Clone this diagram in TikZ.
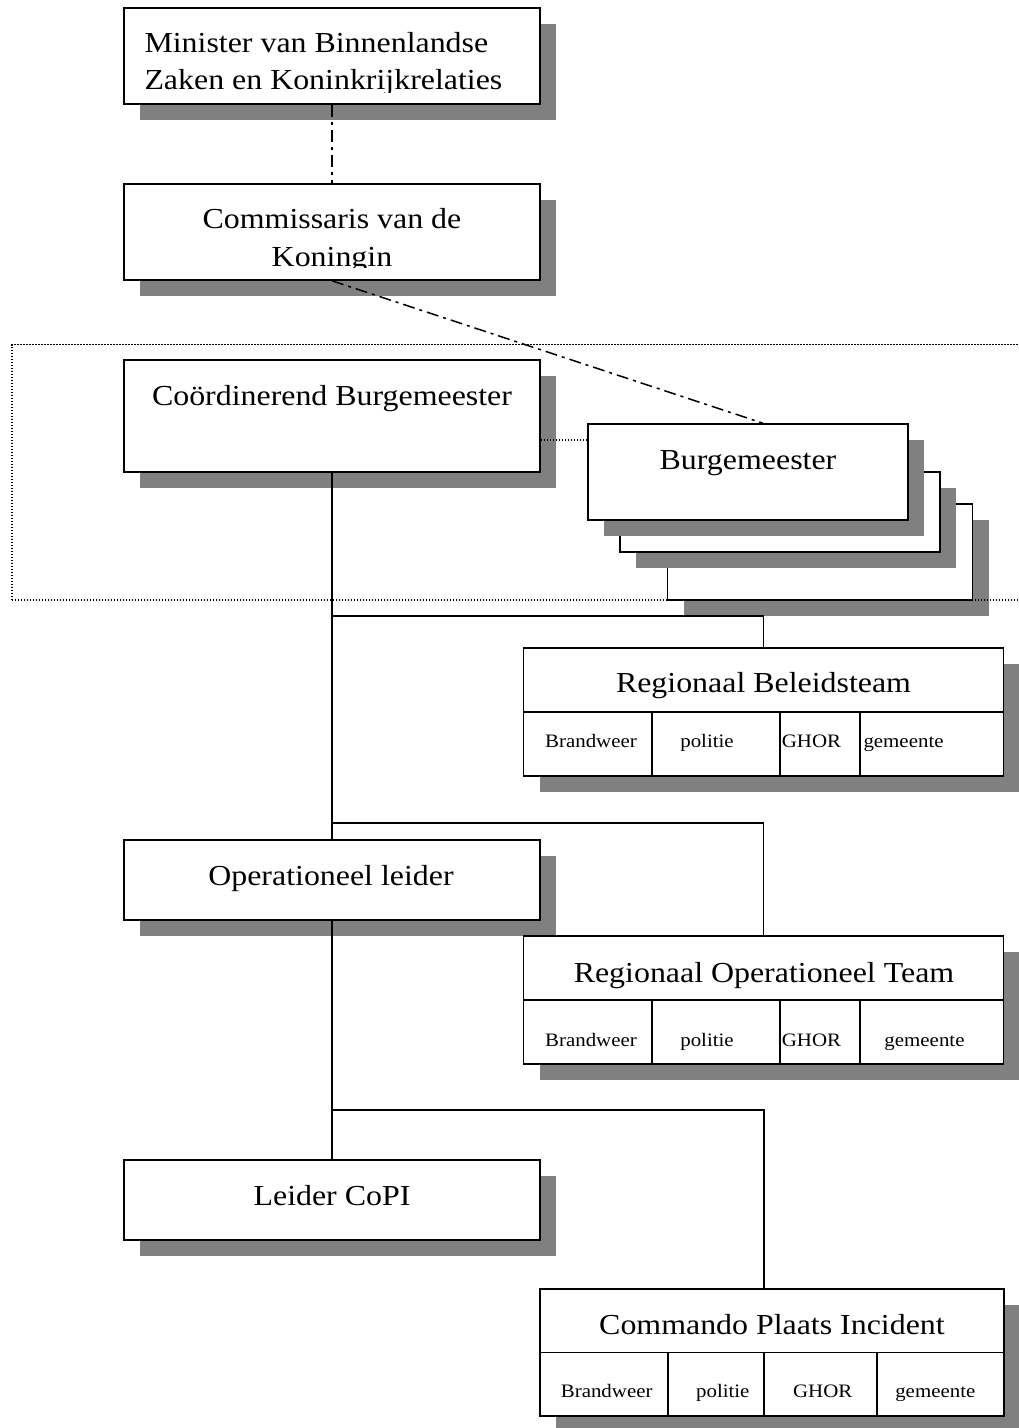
\documentclass[tikz,border=0pt]{standalone}
\usepackage{fontspec}
\setmainfont{Liberation Serif}[FakeStretch=1.1]
\usetikzlibrary{shadows}
\definecolor{shade}{HTML}{808080}
\tikzset{
  box/.style={draw, line width=1.6pt, fill=white, inner sep=0pt,
    drop shadow={shadow xshift=16pt, shadow yshift=-16pt, fill=shade, opacity=1}},
  orgbox/.style={box, minimum width=416pt},
  lbl/.style={inner sep=0pt, anchor=base, font=\fontsize{29}{37}\selectfont},
  small/.style={inner sep=0pt, anchor=base, font=\fontsize{19}{23}\selectfont},
  conn/.style={line width=1.6pt},
  boxline/.style={line width=1.6pt},
  dashdot/.style={line width=1.5pt, dash pattern=on 12pt off 5pt on 3pt off 5pt},
  dotline/.style={line width=1.3pt, dash pattern=on 1.3pt off 1.7pt},
}
\begin{document}
\begin{tikzpicture}[x=1pt,y=-1pt]
\useasboundingbox (0,0) rectangle (1019,1428);

% boxes
\node[orgbox, minimum height=96pt] (min) at (332,56) {};
\node[orgbox, minimum height=96pt] (com) at (332,232) {};
\node[orgbox, minimum height=112pt] (crd) at (332,416) {};
\node[box, minimum width=305pt, minimum height=96pt] (burg3) at (820,552) {};
\node[box, minimum width=320pt, minimum height=80pt] (burg2) at (780,512) {};
\node[box, minimum width=320pt, minimum height=96pt] (burg1) at (748,472) {};
\node[orgbox, minimum height=80pt] (op) at (332,880) {};
\node[orgbox, minimum height=80pt] (cop) at (332,1200) {};
\node[box, minimum width=480pt, minimum height=128pt] (rb) at (763.5,712) {};
\node[box, minimum width=480pt, minimum height=128pt] (rot) at (763.5,1000) {};
\node[box, minimum width=464pt, minimum height=127pt] (cpi) at (772,1352.5) {};

% table rows and cells
\draw[boxline] (rb.west) -- (rb.east);
\draw[boxline] (652,0 |- rb.center) -- (652,0 |- rb.south);
\draw[boxline] (780,0 |- rb.center) -- (780,0 |- rb.south);
\draw[boxline] (860,0 |- rb.center) -- (860,0 |- rb.south);
\draw[boxline] (rot.west) -- (rot.east);
\draw[boxline] (652,0 |- rot.center) -- (652,0 |- rot.south);
\draw[boxline] (780,0 |- rot.center) -- (780,0 |- rot.south);
\draw[boxline] (860,0 |- rot.center) -- (860,0 |- rot.south);
\draw[boxline] (cpi.west) -- (cpi.east);
\draw[boxline] (668,0 |- cpi.center) -- (668,0 |- cpi.south);
\draw[boxline] (764,0 |- cpi.center) -- (764,0 |- cpi.south);
\draw[boxline] (877,0 |- cpi.center) -- (877,0 |- cpi.south);

% texts
\begin{scope}
  \clip (124,9) rectangle (540,92);
  \node[lbl, anchor=base west] (minA) at (144.3,52.7) {Minister van Binnenlandse};
  \node[lbl, anchor=base west] (minB) at (144.3,89.3) {Zaken en Koninkrijkrelaties};
\end{scope}
\begin{scope}
  \clip (124,185) rectangle (540,267);
  \node[lbl] (comA) at (332,228.3) {Commissaris van de};
  \node[lbl] (comB) at (332,266) {Koningin};
\end{scope}
\node[lbl] (crdT) at (332,405) {Coördinerend Burgemeester};
\node[lbl] (burgT) at (748,469) {Burgemeester};
\node[lbl] (opT) at (331,885) {Operationeel leider};
\node[lbl] (copT) at (332,1205) {Leider CoPI};

\node[lbl] (rbT) at (763.5,692.3) {Regionaal Beleidsteam};
\node[small] (rb1) at (591,747.7) {Brandweer};
\node[small] (rb2) at (707,747.7) {politie};
\node[small, anchor=base west] (rb3) at (781.7,747.7) {GHOR};
\node[small, anchor=base west] (rb4) at (863.3,747.7) {gemeente};

\node[lbl] (rotT) at (764,982.3) {Regionaal Operationeel Team};
\node[small] (rot1) at (591,1046) {Brandweer};
\node[small] (rot2) at (707,1046) {politie};
\node[small, anchor=base west] (rot3) at (781.7,1046) {GHOR};
\node[small] (rot4) at (924.5,1046) {gemeente};

\node[lbl] (cpiT) at (772,1334) {Commando Plaats Incident};
\node[small] (cpi1) at (606.7,1397.3) {Brandweer};
\node[small] (cpi2) at (722.8,1397.3) {politie};
\node[small] (cpi3) at (822.7,1397.3) {GHOR};
\node[small] (cpi4) at (935.3,1397.3) {gemeente};

% connectors
\draw[dashdot] (min.south) -- (com.north);
\draw[dashdot] (com.south) -- ([xshift=15pt]burg1.north);
\draw[dotline] ([yshift=-24pt]crd.east) -- ([yshift=-24pt]crd.east -| burg1.west);
\draw[conn] (crd.south) -- (op.north);
\draw[conn] (op.south) -- (cop.north);
\draw[conn] (rb.north) -- ++(0,-31) -| (op.north);
\draw[conn] (rot.north) -- ++(0,-112) -| (op.north);
\draw[conn] ([xshift=-8pt]cpi.north) -- ++(0,-178) -| (cop.north);

% dotted group frame
\node[draw, dotline, inner sep=0pt, minimum width=1020pt, minimum height=255.5pt] (grp) at (522,472.25) {};
\end{tikzpicture}
\end{document}
